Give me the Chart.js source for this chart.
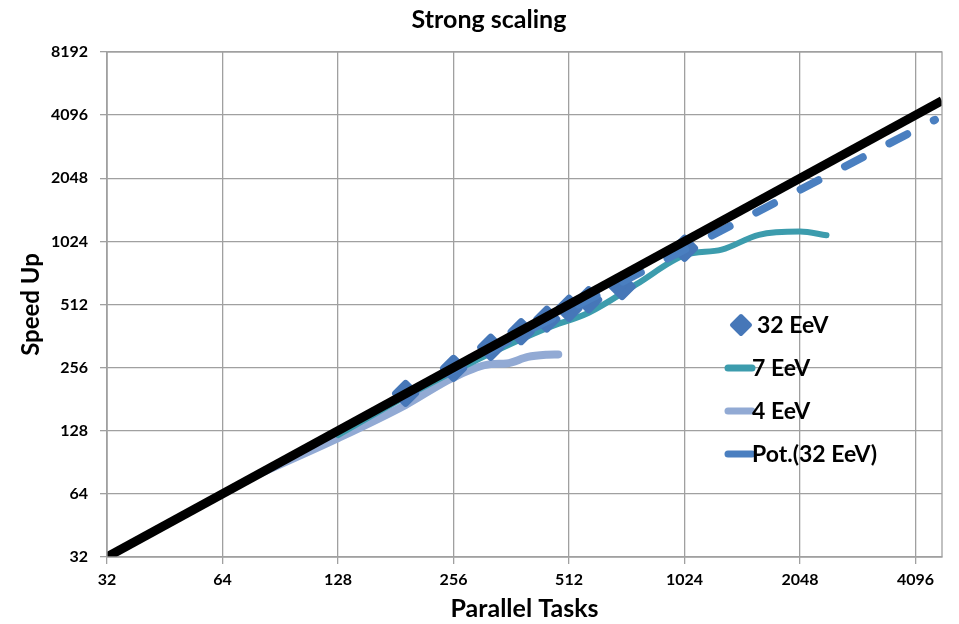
<!DOCTYPE html>
<html>
<head>
<meta charset="utf-8">
<script src="https://cdn.jsdelivr.net/npm/chart.js@4.4.0/dist/chart.umd.min.js"></script>
<style>
  html, body { margin: 0; padding: 0; background: #fff; }
</style>
</head>
<body>
<canvas id="myChart" width="959" height="624"></canvas>
<script>
// tick labels (powers of two)
var xTicks = [32, 64, 128, 256, 512, 1024, 2048, 4096];
var yTicks = [32, 64, 128, 256, 512, 1024, 2048, 4096, 8192];

// 32 EeV measurements
var tasks32 = [192, 256, 320, 384, 448, 512, 576, 704, 1024];
var speed32 = [193, 254, 320, 380, 436, 491, 539, 623, 950];

// 7 EeV
var tasks7 = [128, 192, 256, 320, 448, 576, 768, 1024, 1280, 1600, 2048, 2400];
var speed7 = [122, 186, 245, 300, 395, 468, 640, 880, 935, 1100, 1140, 1095];

// 4 EeV
var tasks4 = [80, 128, 192, 256, 320, 352, 400, 448, 480];
var speed4 = [80, 118, 170, 230, 266, 268, 288, 295, 296];

// power trendline for 32 EeV (end points)
var tasksPot = [192, 4600];
var speedPot = [191, 3890];

// ideal scaling
var tasksIdeal = [32, 4800];
var speedIdeal = [32, 4800];

function pts(xs, ys) {
  return xs.map(function (x, i) { return { x: x, y: ys[i] }; });
}

var FONT = "Lato, 'Open Sans', sans-serif";

var frame = {
  id: 'frame',
  afterDatasetsDraw: function (chart) {
    var a = chart.chartArea, ctx = chart.ctx;
    ctx.save();
    ctx.strokeStyle = '#a0a0a0';
    ctx.lineWidth = 1.3;
    ctx.strokeRect(a.left, a.top, a.right - a.left, a.bottom - a.top);
    ctx.restore();
  }
};

// rounded corners on the diamond markers
var roundMarkers = {
  id: 'roundMarkers',
  beforeDatasetDraw: function (chart) {
    chart.ctx.save();
    chart.ctx.lineJoin = 'round';
  },
  afterDatasetDraw: function (chart) {
    chart.ctx.restore();
  }
};

var sideLegend = {
  id: 'sideLegend',
  afterDraw: function (chart) {
    var ctx = chart.ctx;
    var x0 = 725, y0 = 325, step = 43;
    ctx.save();
    ctx.font = 'bold 23px ' + FONT;
    ctx.textBaseline = 'middle';
    var row = 0;
    chart.data.datasets.forEach(function (ds) {
      if (!ds.inLegend) return;
      var y = y0 + row * step;
      if (ds.showLine === false) {
        ctx.fillStyle = ds.backgroundColor;
        ctx.strokeStyle = ds.backgroundColor;
        ctx.lineWidth = 4;
        ctx.lineJoin = 'round';
        ctx.beginPath();
        ctx.moveTo(741, y - 9);
        ctx.lineTo(750, y);
        ctx.lineTo(741, y + 9);
        ctx.lineTo(732, y);
        ctx.closePath();
        ctx.fill();
        ctx.stroke();
        ctx.fillStyle = '#000';
        ctx.fillText(ds.label, 757, y + 1);
      } else {
        ctx.strokeStyle = ds.borderColor;
        ctx.lineWidth = 7;
        ctx.lineCap = 'round';
        ctx.beginPath();
        ctx.moveTo(x0 + 3, y);
        ctx.lineTo(x0 + 27, y);
        ctx.stroke();
        ctx.fillStyle = '#000';
        ctx.fillText(ds.label, 752, y + 1);
      }
      row++;
    });
    ctx.restore();
  }
};

const ctx = document.getElementById('myChart').getContext('2d');
const myChart = new Chart(ctx, {
  type: 'scatter',
  data: {
    datasets: [
      {
        label: 'Ideal',
        data: pts(tasksIdeal, speedIdeal),
        showLine: true,
        borderColor: '#000000',
        borderWidth: 9,
        pointRadius: 0,
        order: 0
      },
      {
        label: '32 EeV',
        data: pts(tasks32, speed32),
        showLine: false,
        pointStyle: 'rectRot',
        pointRadius: 10,
        backgroundColor: '#4677b8',
        borderColor: '#4677b8',
        borderWidth: 7,
        inLegend: true,
        order: 2
      },
      {
        label: '7 EeV',
        data: pts(tasks7, speed7),
        showLine: true,
        borderColor: '#3c9cad',
        borderWidth: 6,
        tension: 0.4,
        cubicInterpolationMode: 'monotone',
        borderCapStyle: 'round',
        pointRadius: 0,
        inLegend: true,
        order: 3
      },
      {
        label: '4 EeV',
        data: pts(tasks4, speed4),
        showLine: true,
        borderColor: '#92aad4',
        borderWidth: 8,
        tension: 0.4,
        cubicInterpolationMode: 'monotone',
        borderCapStyle: 'round',
        pointRadius: 0,
        inLegend: true,
        order: 4
      },
      {
        label: 'Pot.(32 EeV)',
        data: pts(tasksPot, speedPot),
        showLine: true,
        borderColor: '#4a7fc0',
        borderWidth: 8,
        borderDash: [20, 30],
        borderDashOffset: 5,
        borderCapStyle: 'round',
        pointRadius: 0,
        inLegend: true,
        order: 1
      }
    ]
  },
  options: {
    responsive: false,
    animation: false,
    layout: { padding: { left: 30, right: 11, top: 0, bottom: 0 } },
    plugins: {
      legend: { display: false },
      tooltip: { enabled: false },
      title: {
        display: true,
        text: 'Strong scaling',
        color: '#000',
        font: { family: FONT, size: 25, weight: 'bold' },
        padding: { top: 5, bottom: 17 }
      }
    },
    scales: {
      x: {
        type: 'logarithmic',
        min: 32,
        max: 4800,
        afterBuildTicks: function (scale) {
          scale.ticks = xTicks.map(function (v) { return { value: v }; });
        },
        afterFit: function (scale) { scale.height = 67; },
        ticks: {
          color: '#000',
          padding: 6,
          maxRotation: 0,
          font: { family: FONT, size: 16, weight: 'bold' },
          callback: function (v) { return String(v); }
        },
        grid: { color: '#a0a0a0', lineWidth: 1.3, tickLength: 7 },
        border: { color: '#a0a0a0', width: 1.3 },
        title: {
          display: true,
          text: 'Parallel Tasks',
          color: '#000',
          font: { family: FONT, size: 25, weight: 'bold' },
          padding: { top: 0, bottom: 0 }
        }
      },
      y: {
        type: 'logarithmic',
        min: 32,
        max: 8192,
        afterBuildTicks: function (scale) {
          scale.ticks = yTicks.map(function (v) { return { value: v }; });
        },
        afterFit: function (scale) { scale.width = 77; },
        ticks: {
          color: '#000',
          padding: 12,
          font: { family: FONT, size: 16, weight: 'bold' },
          callback: function (v) { return String(v); }
        },
        grid: { color: '#a0a0a0', lineWidth: 1.3, tickLength: 7 },
        border: { color: '#a0a0a0', width: 1.3 },
        title: {
          display: true,
          text: 'Speed Up',
          color: '#000',
          font: { family: FONT, size: 24, weight: 'bold' },
          padding: { top: -13, bottom: 0 }
        }
      }
    }
  },
  plugins: [frame, roundMarkers, sideLegend]
});
</script>
</body>
</html>
